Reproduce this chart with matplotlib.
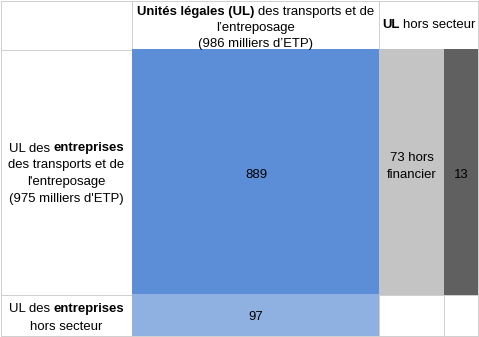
import matplotlib
matplotlib.use("Agg")
import matplotlib.pyplot as plt
from matplotlib.patches import Rectangle

# Emplois (milliers d'ETP) croisés : secteur de l'UL x secteur de l'entreprise
total_ul_secteur = 986
total_ent_secteur = 975
ent_secteur_ul_secteur = 889
ent_secteur_ul_hors_financier = 73
ent_secteur_ul_financier = 13
ent_hors_ul_secteur = 97

FONT = ["Liberation Sans", "DejaVu Sans"]
SIZE = 9.45
GRID = "#d0d0d0"
BLUE = "#5b8ed6"
LIGHT_BLUE = "#8eb1e1"
LIGHT_GREY = "#c4c4c4"
DARK_GREY = "#606060"

W, H = 479, 337
fig = plt.figure(figsize=(W / 100, H / 100), dpi=100)
ax = fig.add_axes([0, 0, 1, 1])
ax.set_xlim(0, W)
ax.set_ylim(H, 0)
ax.axis("off")

# table geometry (pixels)
x0, x1, x2, x3, x4 = 0.5, 132.5, 379.5, 444.5, 478.0
y0, y1, y2, y3 = 0.5, 49.5, 294.5, 336.0

# grid lines
lw = 0.72
for x in (x0, x1, x2, x4):
    ax.plot([x, x], [y0, y3], color=GRID, lw=lw, zorder=1)
ax.plot([x3, x3], [y2, y3], color=GRID, lw=lw, zorder=1)
for y in (y0, y1, y2, y3):
    ax.plot([x0, x4], [y, y], color=GRID, lw=lw, zorder=1)

# filled cells
cells = [
    (x1, y1, x2, y2, BLUE),
    (x1, y2, x2, y3 - 0.5, LIGHT_BLUE),
    (x2, y1, x3, y2, LIGHT_GREY),
    (x3, y1, x4 + 0.5, y2, DARK_GREY),
]
for a, b, c, d, col in cells:
    ax.add_patch(Rectangle((a - 0.5, b - 0.5), c - a + 0.5, d - b + 0.5,
                           facecolor=col, edgecolor="none", zorder=2))

renderer = fig.canvas.get_renderer()


def width_of(s, bold=False):
    t = ax.text(0, 0, s, fontsize=SIZE, family=FONT,
                fontweight="bold" if bold else "normal")
    w = t.get_window_extent(renderer).width
    t.remove()
    return w


SPACE = width_of("a a") - width_of("aa")


def rich_line(xc, yb, parts):
    """Centred line made of (text, bold) segments, baseline at yb."""
    widths = [width_of(s, b) for s, b in parts]
    total = sum(widths) + SPACE * (len(parts) - 1)
    x = xc - total / 2
    for (s, b), w in zip(parts, widths):
        ax.text(x, yb, s, fontsize=SIZE, family=FONT, ha="left",
                va="baseline", fontweight="bold" if b else "normal",
                color="black", zorder=3)
        x += w + SPACE


def line(xc, yb, s):
    rich_line(xc, yb, [(s, False)])


# column headers
cx_main = (x1 + x2) / 2
rich_line(cx_main, 14.5, [("Unités légales (UL)", True),
                          ("des transports et de", False)])
line(cx_main, 31, "l’entreposage")
line(cx_main, 47, f"({total_ul_secteur} milliers d’ETP)")
rich_line((x2 + x4) / 2, 28.5, [("UL", True), ("hors secteur", False)])

# row headers
cx_left = (x0 + x1) / 2
rich_line(cx_left, 151.5, [("UL des", False), ("entreprises", True)])
line(cx_left, 168.2, "des transports et de")
line(cx_left, 185, "l'entreposage")
line(cx_left, 201.7, f"({total_ent_secteur} milliers d'ETP)")
rich_line(cx_left, 312.3, [("UL des", False), ("entreprises", True)])
line(cx_left, 330, "hors secteur")

# cell values
line(cx_main, 177.5, f"{ent_secteur_ul_secteur}")
line((x2 + x3) / 2, 161, f"{ent_secteur_ul_hors_financier} hors")
line((x2 + x3) / 2, 178, "financier")
line((x3 + x4) / 2, 177.5, f"{ent_secteur_ul_financier}")
line(cx_main, 319.7, f"{ent_hors_ul_secteur}")

fig.savefig("out.png", dpi=100)
